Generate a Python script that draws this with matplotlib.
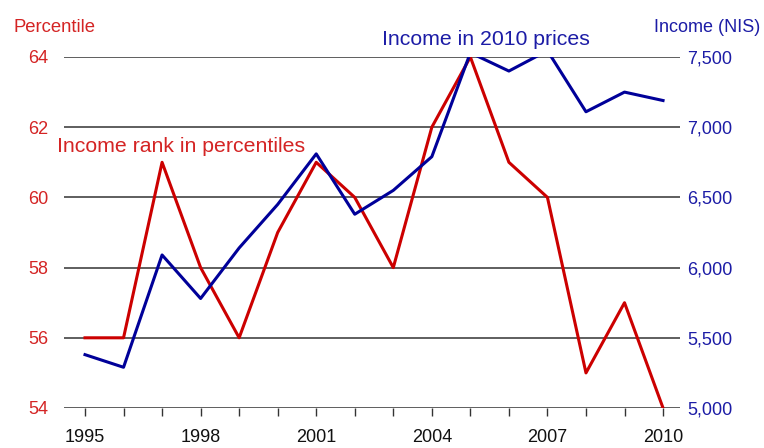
import matplotlib
matplotlib.use("Agg")
import matplotlib.pyplot as plt

plt.rcParams['font.family'] = ['Liberation Sans', 'DejaVu Sans']

years = list(range(1995, 2011))
percentile = [56, 56, 61, 58, 56, 59, 61, 60, 58, 62, 64, 61, 60, 55, 57, 54]
income = [5380, 5290, 6090, 5780, 6140, 6450, 6810, 6380, 6550, 6790,
          7530, 7400, 7545, 7110, 7250, 7190]
year_labels = [1995, 1998, 2001, 2004, 2007, 2010]

RED = "#cc0000"
BLUE = "#000099"
RED_TXT = "#d42424"
BLUE_TXT = "#1c1ca6"

fig = plt.figure(figsize=(7.64, 4.48), dpi=100)
ax = fig.add_axes([64 / 764, 40 / 448, 616 / 764, 351 / 448])
ax2 = ax.twinx()

ax.plot(years, percentile, color=RED, lw=2.2, zorder=3)
ax2.plot(years, income, color=BLUE, lw=2.2, zorder=3)

ax.set_xlim(1994.455, 2010.44)
ax.set_ylim(54, 64)
ax2.set_ylim(5000, 7500)

ax.set_yticks(range(54, 65, 2))
ax2.set_yticks(range(5000, 7501, 500))
ax2.set_yticklabels([f"{v:,}" for v in range(5000, 7501, 500)])

ax.set_xticks(years)
ax.set_xticklabels([str(y) if y in year_labels else "" for y in years])

for a in (ax, ax2):
    for s in a.spines.values():
        s.set_visible(False)

# horizontal gridlines only
ax.yaxis.grid(True, color="#333333", lw=1.1, zorder=1)
ax.set_axisbelow(True)

ax.tick_params(axis='y', length=0, pad=11, labelsize=13, labelcolor=RED_TXT)
ax2.tick_params(axis='y', length=0, pad=5, labelsize=13, labelcolor=BLUE_TXT)
ax.tick_params(axis='x', length=6, width=1, color="#333333", pad=9,
               labelsize=13, labelcolor="#111111")

fig.text(14 / 764, 1 - 32 / 448, "Percentile", color=RED_TXT, fontsize=13.3,
         va='baseline', ha='left')
fig.text(760 / 764, 1 - 32 / 448, "Income (NIS)", color=BLUE_TXT, fontsize=13,
         va='baseline', ha='right')

ax.text(1994.27, 61.28, "Income rank in percentiles", color=RED_TXT,
        fontsize=15.3, va='baseline', ha='left')
ax.text(2002.71, 64.34, "Income in 2010 prices", color=BLUE_TXT,
        fontsize=15.3, va='baseline', ha='left', clip_on=False)

fig.savefig("out.png", dpi=100)
